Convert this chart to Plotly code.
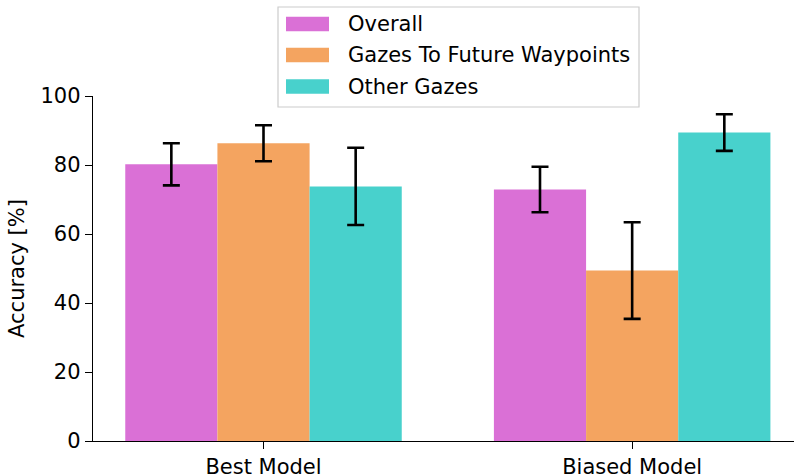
import plotly.graph_objects as go

# Data
models = ["Best Model", "Biased Model"]
series_names = ["Overall", "Gazes To Future Waypoints", "Other Gazes"]
overall = [80.2, 72.9]
overall_err = [6.1, 6.6]
future_gazes = [86.3, 49.4]
future_gazes_err = [5.2, 14.0]
other_gazes = [73.8, 89.4]
other_gazes_err = [11.2, 5.3]
y_ticks = [0, 20, 40, 60, 80, 100]

colors = ["#DA70D6", "#F4A460", "#48D1CC"]
values = [overall, future_gazes, other_gazes]
errors = [overall_err, future_gazes_err, other_gazes_err]

W, H = 794, 476
L, R, T, B = 93, 0, 96, 35
FONT = "DejaVu Sans"
FS = 21

fig = go.Figure()
for name, vals, errs, col in zip(series_names, values, errors, colors):
    fig.add_trace(go.Bar(
        x=models, y=vals, name=name,
        marker=dict(color=col, line=dict(width=0)),
        error_y=dict(type="data", array=errs, visible=True,
                     color="black", thickness=2.6, width=8.5),
        showlegend=False,
    ))

# Pixel -> paper helpers for the legend box
pw = W - L - R
ph = H - T - B


def px_x(px):
    return (px - L) / pw


def px_y(py):
    return (H - B - py) / ph


shapes = [dict(type="rect", xref="paper", yref="paper",
               x0=px_x(278), x1=px_x(639), y0=px_y(107), y1=px_y(7),
               line=dict(color="#cccccc", width=1.2), fillcolor="rgba(255,255,255,0.85)",
               layer="above")]
annotations = []
row_centers = [24, 55, 86.5]
for name, col, cy in zip(series_names, colors, row_centers):
    shapes.append(dict(type="rect", xref="paper", yref="paper",
                       x0=px_x(286), x1=px_x(329), y0=px_y(cy + 7.3), y1=px_y(cy - 7.3),
                       line=dict(width=0), fillcolor=col, layer="above"))
    annotations.append(dict(xref="paper", yref="paper", x=px_x(346), y=px_y(cy),
                            text=name, showarrow=False, xanchor="left", yanchor="middle",
                            font=dict(family=FONT, size=FS, color="black")))

fig.update_layout(
    width=W, height=H,
    margin=dict(l=L, r=R, t=T, b=B, pad=0),
    paper_bgcolor="white", plot_bgcolor="white",
    barmode="group", bargap=0.25, bargroupgap=0,
    font=dict(family=FONT, size=FS, color="black"),
    shapes=shapes, annotations=annotations,
    xaxis=dict(range=[-0.4625, 1.439], showline=True, linecolor="black", linewidth=1.4,
               ticks="outside", ticklen=7, tickwidth=1.4, tickcolor="black",
               showgrid=False, zeroline=False, tickfont=dict(size=FS), automargin=False),
    yaxis=dict(range=[0, 100], tickvals=y_ticks, showline=True, linecolor="black",
               linewidth=1.4, ticks="outside", ticklen=7, tickwidth=1.4, tickcolor="black",
               showgrid=False, zeroline=False, tickfont=dict(size=FS), automargin=False,
               title=dict(text="Accuracy [%]", font=dict(size=FS), standoff=10)),
)

fig.write_html("out.html")
